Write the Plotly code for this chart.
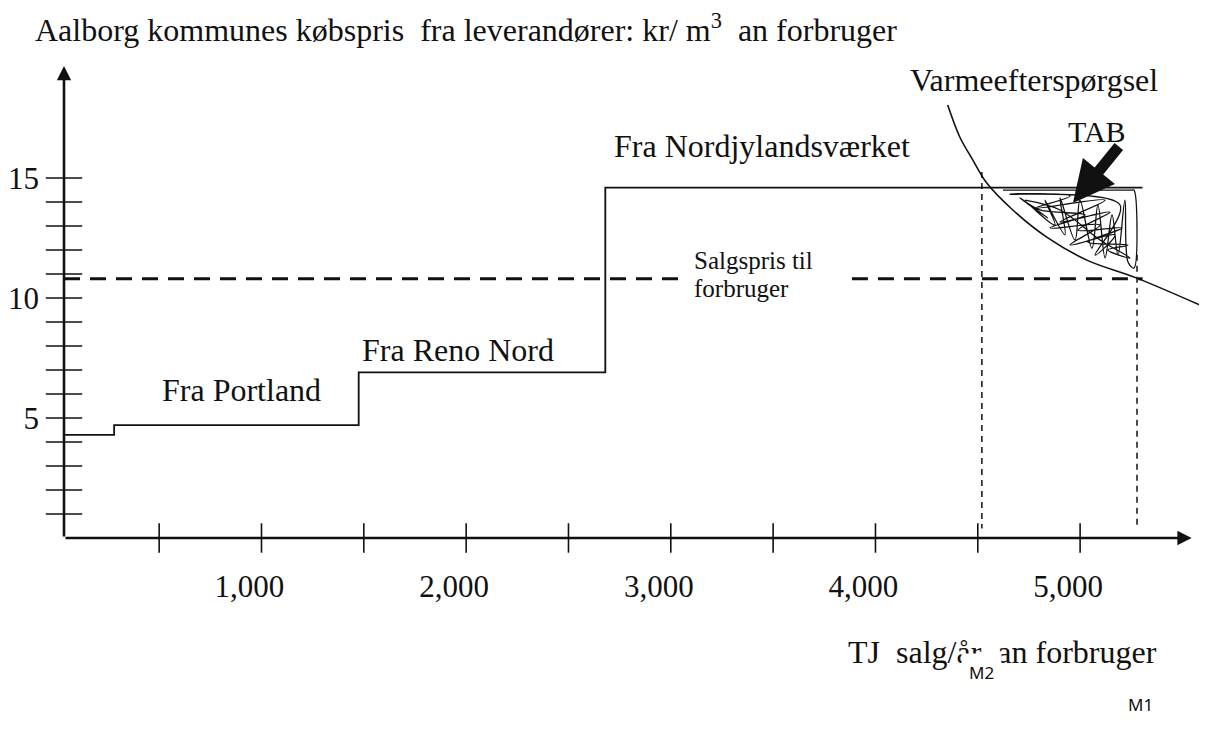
import plotly.graph_objects as go

# Leverandoerernes prisstrappe (kr/m3) mod akkumuleret salg (TJ/aar)
step_x = [35, 280, 1475, 2680, 5305]
step_y = [4.3, 4.7, 6.9, 14.6, 14.6]

# salgspris til forbruger - stiplet, med hul til teksten
price_level = 10.8
price_x_left = [35, 3055]
price_x_right = [3885, 5305]

# varmeefterspoergsel
demand_x = [4353, 4412, 4476, 4544, 4671, 4837, 5033, 5277, 5619]
demand_y = [18.04, 16.71, 15.75, 14.79, 13.67, 12.54, 11.58, 10.83, 9.58]

# lodrette hjaelpelinjer M2 / M1
m2_x, m2_top = 4520, 15.25
m1_x, m1_top = 5278, 11.8
guide_bottom = 0.4

# TAB-trekant, kruset ud i haanden
tab_x = [4623, 5253, 5263, 5263, 5234, 5219, 5185, 5156, 5122, 5087, 5058, 4999, 4975, 4902,
         4926, 4828, 4877, 4755, 4843, 4706, 4804, 5024, 4853, 5097, 4951, 5170, 5073, 5195,
         4657, 4951, 4780, 5122, 4902, 5146, 4990, 5205, 5038, 5234, 5136, 5244, 5097, 4902, 4731]
tab_y = [14.5, 14.5, 14.5, 11.25, 11.5, 14.08, 11.79, 13.46, 11.67, 13.88, 12.08, 14.08, 12.42, 14.17,
         12.63, 14.08, 13.04, 13.88, 13.33, 14.17, 13.67, 13.46, 12.92, 13.04, 12.21, 12.63, 11.79, 13.88,
         14.33, 14.25, 13.75, 14.08, 13.17, 13.58, 12.83, 12.92, 12.33, 12.21, 12.0, 11.67, 12.42, 13.67, 14.08]

x_ticks = [500, 1000, 1500, 2000, 2500, 3000, 3500, 4000, 4500, 5000]
x_labels = [1000, 2000, 3000, 4000, 5000]
y_ticks = list(range(1, 16))
y_labels = [5, 10, 15]

x_range = [35, 5620]
y_range = [0, 19.67]

SERIF = "Liberation Serif"
BLACK = "#111111"

fig = go.Figure()

fig.add_trace(go.Scatter(x=step_x, y=step_y, mode="lines", line_shape="hv",
                         line=dict(color=BLACK, width=1.8)))
fig.add_trace(go.Scatter(x=price_x_left, y=[price_level] * 2, mode="lines",
                         line=dict(color=BLACK, width=3, dash="16px,10px")))
fig.add_trace(go.Scatter(x=price_x_right, y=[price_level] * 2, mode="lines",
                         line=dict(color=BLACK, width=3, dash="16px,10px")))
fig.add_trace(go.Scatter(x=[m2_x, m2_x], y=[m2_top, guide_bottom], mode="lines",
                         line=dict(color=BLACK, width=1.5, dash="6px,5px")))
fig.add_trace(go.Scatter(x=[m1_x, m1_x], y=[m1_top, guide_bottom], mode="lines",
                         line=dict(color=BLACK, width=1.5, dash="6px,5px")))
fig.add_trace(go.Scatter(x=tab_x, y=tab_y, mode="lines", line_shape="spline",
                         line=dict(color=BLACK, width=1.3, smoothing=1.0)))
fig.add_trace(go.Scatter(x=demand_x, y=demand_y, mode="lines", line_shape="spline",
                         line=dict(color=BLACK, width=1.6)))

# tick marks crossing the axes
fig.add_trace(go.Scatter(x=x_ticks, y=[0] * len(x_ticks), mode="markers", cliponaxis=False,
                         marker=dict(symbol="line-ns", size=21, line=dict(color=BLACK, width=1.6))))
fig.add_trace(go.Scatter(x=[x_range[0]] * len(y_ticks), y=y_ticks, mode="markers", cliponaxis=False,
                         marker=dict(symbol="line-ew", size=26, line=dict(color=BLACK, width=1.6))))

# axes drawn as arrows
fig.add_annotation(x=5545, y=0, ax=x_range[0], ay=0, axref="x", ayref="y", text="",
                   showarrow=True, arrowhead=2, arrowwidth=2.6, arrowsize=1.1, arrowcolor=BLACK, standoff=0)
fig.add_annotation(x=x_range[0], y=y_range[1], ax=x_range[0], ay=0, axref="x", ayref="y", text="",
                   showarrow=True, arrowhead=2, arrowwidth=2.6, arrowsize=1.1, arrowcolor=BLACK, standoff=0)

# TAB arrow
fig.add_annotation(x=4965, y=13.96, ax=5195, ay=16.38, axref="x", ayref="y", text="",
                   showarrow=True, arrowhead=2, arrowwidth=11, arrowsize=0.75, arrowcolor=BLACK, standoff=0)

labels = [
    ("Fra Portland", 900, 6.17, "center", 32),
    ("Fra Reno Nord", 1960, 7.83, "center", 32),
    ("Fra Nordjylandsværket", 2713, 16.33, "left", 32),
    ("Salgspris til", 3103, 11.55, "left", 25),
    ("forbruger", 3103, 10.4, "left", 25),
    ("Varmeefterspørgsel", 4159, 19.08, "left", 32),
    ("TAB", 5082, 16.96, "center", 30),
]
for text, x, y, anchor, size in labels:
    fig.add_annotation(x=x, y=y, text=text, showarrow=False, xanchor=anchor, yanchor="middle",
                       font=dict(family=SERIF, size=size, color=BLACK))

# titles outside the plot area
fig.add_annotation(xref="paper", yref="paper", x=-0.027, y=1.08, xanchor="left", yanchor="middle",
                   text="Aalborg kommunes købspris\u00a0 fra leverandører: kr/ m<sup>3</sup>\u00a0 an forbruger",
                   showarrow=False, font=dict(family=SERIF, size=32, color=BLACK))
fig.add_annotation(xref="paper", yref="paper", x=0.684, y=-0.2415, xanchor="left", yanchor="middle",
                   text="TJ\u00a0 salg/år\u00a0 an forbruger",
                   showarrow=False, font=dict(family=SERIF, size=32, color=BLACK))
fig.add_annotation(xref="paper", yref="paper", x=0.803, y=-0.2839, xanchor="center", yanchor="middle",
                   text="M2", showarrow=False, bgcolor="white", borderpad=7,
                   font=dict(family="Noto Sans", size=17, color=BLACK))
fig.add_annotation(xref="paper", yref="paper", x=0.9414, y=-0.3538, xanchor="center", yanchor="middle",
                   text="M1", showarrow=False,
                   font=dict(family="Noto Sans", size=17, color=BLACK))

fig.update_xaxes(range=x_range, showgrid=False, zeroline=False, showline=False,
                 tickvals=x_labels, ticktext=[f"{v:,}" for v in x_labels], ticks="",
                 ticklabelstandoff=27, ticklabelshift=-12,
                 tickfont=dict(family=SERIF, size=31, color=BLACK))
fig.update_yaxes(range=y_range, showgrid=False, zeroline=False, showline=False,
                 tickvals=y_labels, ticktext=[str(v) for v in y_labels], ticks="",
                 ticklabelstandoff=24,
                 tickfont=dict(family=SERIF, size=31, color=BLACK))

# the page body has an 8px default margin, so the figure is 8px smaller and margins shifted
fig.update_layout(
    width=1199, height=724,
    margin=dict(l=56, r=0, t=58, b=194),
    showlegend=False,
    hovermode=False,
    plot_bgcolor="white",
    paper_bgcolor="white",
)

fig.write_html("out.html")
